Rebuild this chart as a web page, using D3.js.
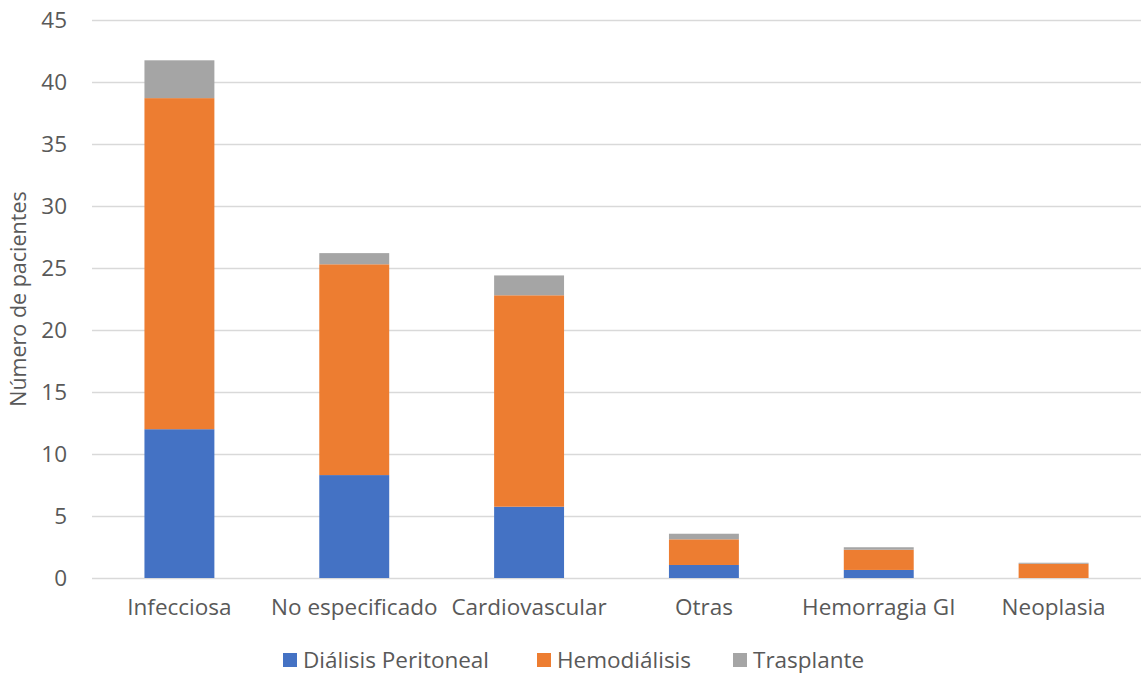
<!DOCTYPE html>
<html>
<head>
<meta charset="utf-8">
<script src="https://cdn.jsdelivr.net/npm/d3@7"></script>
<style>
  html, body { margin: 0; padding: 0; background: #fff; }
  svg text { font-family: "Open Sans", sans-serif; fill: #595959; }
</style>
</head>
<body>
<svg id="chart" width="1141" height="675"></svg>
<script>
// Causes of death by renal replacement modality
const categories = ["Infecciosa", "No especificado", "Cardiovascular", "Otras", "Hemorragia GI", "Neoplasia"];
const seriesNames = ["Diálisis Peritoneal", "Hemodiálisis", "Trasplante"];
const dialisisPeritoneal = [12.0, 8.3, 5.75, 1.05, 0.65, 0];
const hemodialisis = [26.7, 17.0, 17.05, 2.07, 1.63, 1.15];
const trasplante = [3.05, 0.9, 1.6, 0.45, 0.2, 0.08];
const yTicks = [0, 5, 10, 15, 20, 25, 30, 35, 40, 45];
const colors = ["#4472C4", "#ED7D31", "#A5A5A5"];
const FONT = "'Open Sans', sans-serif";
const FS = "22.5px";

const rows = categories.map((c, i) => ({
  cat: c,
  [seriesNames[0]]: dialisisPeritoneal[i],
  [seriesNames[1]]: hemodialisis[i],
  [seriesNames[2]]: trasplante[i]
}));

const svg = d3.select("#chart");
const margin = { left: 92, right: 0, top: 20, bottom: 97 };
const W = 1141, H = 675;

const x = d3.scaleBand().domain(categories)
  .range([margin.left, W - margin.right])
  .paddingInner(0.6).paddingOuter(0.3);
const y = d3.scaleLinear().domain([0, 45]).range([H - margin.bottom, margin.top]);

// gridlines
svg.append("g")
  .selectAll("line").data(yTicks).join("line")
  .attr("x1", margin.left).attr("x2", W - margin.right)
  .attr("y1", d => Math.round(y(d)) + 0.5).attr("y2", d => Math.round(y(d)) + 0.5)
  .attr("stroke", "#D9D9D9").attr("stroke-width", 1.3);

// y-axis labels
const yAxis = svg.append("g")
  .attr("transform", `translate(${margin.left - 25},0)`)
  .call(d3.axisLeft(y).tickValues(yTicks).tickSize(0).tickPadding(0));
yAxis.select(".domain").remove();
yAxis.selectAll("text")
  .style("font-family", FONT)
  .style("font-size", FS).attr("fill", "#595959");

// stacked bars
const stack = d3.stack().keys(seriesNames);
const layers = stack(rows);
svg.append("g").selectAll("g").data(layers).join("g")
  .attr("fill", (d, i) => colors[i])
  .selectAll("rect").data(d => d).join("rect")
  .attr("x", d => x(d.data.cat))
  .attr("width", x.bandwidth())
  .attr("y", d => y(d[1]))
  .attr("height", d => Math.max(0, y(d[0]) - y(d[1])));

// x-axis labels
const xAxis = svg.append("g")
  .attr("transform", `translate(0,${y(0)})`)
  .call(d3.axisBottom(x).tickSize(0).tickPadding(21));
xAxis.select(".domain").remove();
xAxis.selectAll("text")
  .style("font-family", FONT)
  .style("font-size", FS).attr("fill", "#595959");

// y-axis title
svg.append("text")
  .attr("transform", `translate(26,${(y(0) + y(45)) / 2}) rotate(-90)`)
  .attr("text-anchor", "middle")
  .style("font-size", "21.5px")
  .text("Número de pacientes");

// legend
const legendX = [283, 537, 733];
const legend = svg.append("g").attr("transform", "translate(0,660)");
seriesNames.forEach((name, i) => {
  legend.append("rect")
    .attr("x", legendX[i]).attr("y", -7).attr("width", 14).attr("height", 14)
    .attr("fill", colors[i]);
  legend.append("text")
    .attr("x", legendX[i] + 20).attr("y", 0).attr("dy", "0.35em")
    .style("font-size", FS)
    .text(name);
});
</script>
</body>
</html>
